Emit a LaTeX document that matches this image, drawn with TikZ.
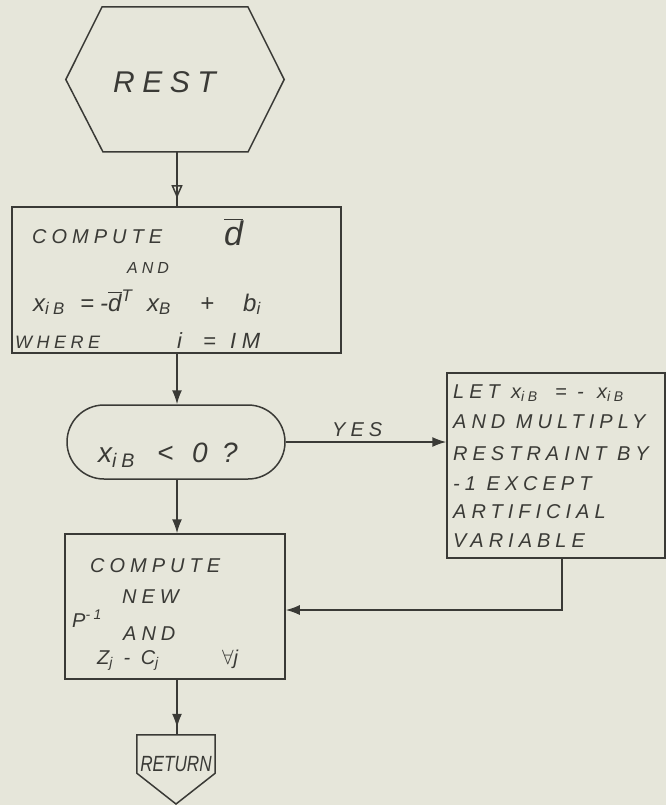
\documentclass[tikz,border=0pt]{standalone}
\usepackage{fontspec}
\usepackage{graphicx}
\setmainfont{Liberation Sans}
\newfontfamily\hand{Liberation Sans}[LetterSpace=25]
\usetikzlibrary{arrows.meta,shapes.misc,decorations.markings}
\definecolor{paper}{RGB}{230,230,218}
\definecolor{ink}{RGB}{58,58,54}
\newcommand{\ob}[1]{$\overline{\mbox{#1}}$}
\newcommand{\hs}[1]{\hand\itshape\fontsize{#1}{#1}\selectfont}
\newcommand{\pc}[2]{\makebox[#1][l]{#2}}
\begin{document}
\begin{tikzpicture}[x=1pt,y=-1pt,
  line/.style={color=ink,line width=1.5pt},
  box/.style={draw=ink,line width=1.5pt,rectangle,inner sep=0pt},
  ghost/.style={rectangle,inner sep=0pt,draw=none},
  txt/.style={inner sep=0pt,anchor=base west,text=ink,font=\hs{20}},
  arr/.style={line,-{Latex[length=14pt,width=10pt]}},
  midarr/.style={line,postaction={decorate},decoration={markings,mark=at position #1 with {\arrow{Latex[length=14pt,width=10pt]}}}},
  midopen/.style={line,postaction={decorate},decoration={markings,mark=at position #1 with {\arrow{Triangle[open,length=13pt,width=11pt]}}}},
]
\fill[paper] (0,0) rectangle (666,805);
\useasboundingbox (0,0) rectangle (666,805);
\coordinate (sp) at (177,0);

% REST terminal
\node[ghost,minimum width=218pt,minimum height=145pt] (rest) at (175,79.5) {};
\draw[line] (rest.west) -- (102,7) -- (248,7) -- (rest.east) -- (248,152) -- (103,152) -- cycle;
\node[txt,font=\hs{30}] (tRest) at (113,93) {REST};

% box 1
\node[box,minimum width=329pt,minimum height=146pt] (b1) at (176.5,280) {};
\node[txt] (t1a) at (32,243) {COMPUTE};
\node[txt,font=\hs{34}] (t1b) at (224,245) {\ob{d}};
\node[txt,font=\hs{16}] (t1c) at (127,273) {AND};
\node[txt,font=\hs{24}] (t1d) at (33,311) {\pc{47pt}{x\textsubscript{iB}}\pc{20pt}{=}\pc{47pt}{-\ob{d}\textsuperscript{T}}\pc{53pt}{x\textsubscript{B}}\pc{43pt}{+}b\textsubscript{i}};
\node[txt,font=\hs{18}] (t1e) at (15,348) {WHERE};
\node[txt,font=\hs{22}] (t1f) at (177,348) {\pc{26pt}{i}\pc{27pt}{=}IM};

% decision
\node[rounded rectangle,draw=ink,line width=1.5pt,minimum width=218pt,minimum height=74pt,inner sep=0pt] (dec) at (176,442) {};
\node[txt,font=\hs{28}] (tDec) at (98,462) {\pc{59pt}{x\textsubscript{iB}}\pc{35pt}{<}\pc{30pt}{0}?};

% box 2
\node[box,minimum width=218pt,minimum height=185pt] (b2) at (556,465.5) {};
\node[txt] (t2a) at (453,398) {\pc{58pt}{LET}\pc{44pt}{x\textsubscript{iB}}\pc{22pt}{=}\pc{20pt}{-}x\textsubscript{iB}};
\node[txt] (t2b) at (453,428) {AND MULTIPLY};
\node[txt] (t2c) at (453,460) {RESTRAINT BY};
\node[txt] (t2d) at (453,490) {-1 EXCEPT};
\node[txt] (t2e) at (453,518) {ARTIFICIAL};
\node[txt] (t2f) at (453,547) {VARIABLE};

% box 3
\node[box,minimum width=220pt,minimum height=145pt] (b3) at (175,606.5) {};
\node[txt] (t3a) at (90,572) {COMPUTE};
\node[txt] (t3b) at (122,603) {NEW};
\node[txt] (t3c) at (72,627) {P\textsuperscript{-1}};
\node[txt] (t3d) at (123,640) {AND};
\node[txt] (t3e) at (97,664) {Z\textsubscript{j} - C\textsubscript{j}};
\node[txt] (t3f) at (222,664) {$\forall$j};

% return
\node[ghost,minimum width=78pt,minimum height=38pt] (ret) at (176,754) {};
\draw[line] (ret.north west) -- (ret.north east) -- (ret.south east) -- (176,804) -- (ret.south west) -- cycle;
\node[inner sep=0pt,text=ink,font=\hand\addfontfeature{LetterSpace=0}\itshape\fontsize{22}{22}\selectfont] (tRet) at (176,764) {\scalebox{0.78}[1]{RETURN}};

% connectors
\draw[midopen=46pt] (sp |- rest.south) -- (sp |- b1.north);
\draw[arr] (sp |- b1.south) -- (sp |- dec.north);
\draw[arr] (sp |- dec.south) -- (sp |- b3.north);
\draw[arr] (dec.east) -- (dec.east -| b2.west);
\node[txt] (tYes) at (332,436) {YES};
\coordinate (c2) at (562,610);
\draw[arr] (c2 |- b2.south) -- (c2) -- (c2 -| b3.east);
\draw[midarr=48pt] (sp |- b3.south) -- (sp |- ret.north);
\end{tikzpicture}
\end{document}
